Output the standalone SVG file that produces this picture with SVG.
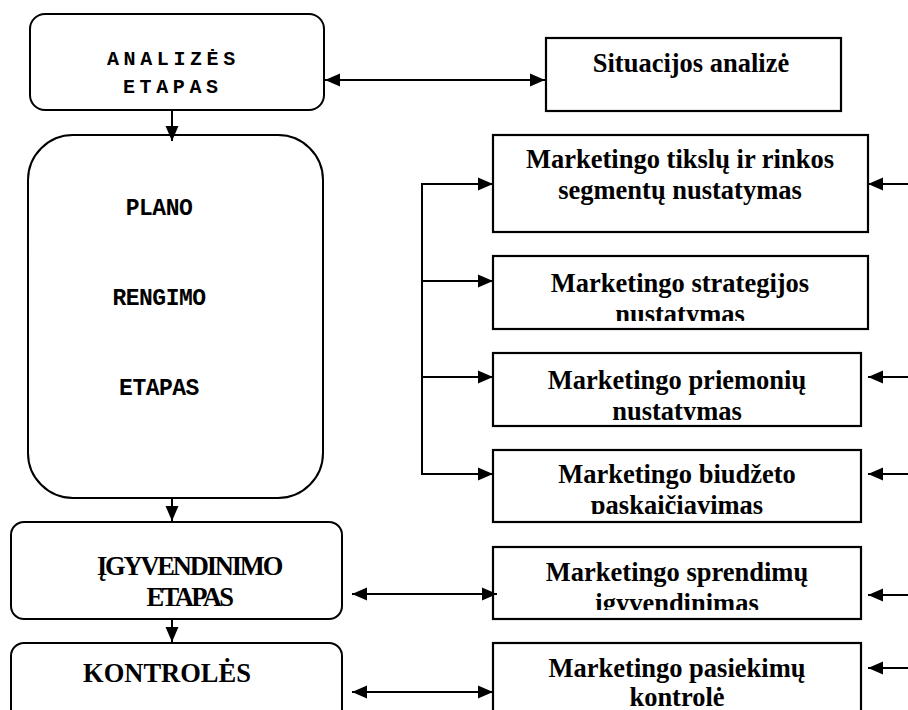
<svg xmlns="http://www.w3.org/2000/svg" width="908" height="710" viewBox="0 0 908 710">
  <style>
    .stage { fill: #fff; stroke: #000; stroke-width: 2; }
    .box { fill: #fff; stroke: #000; stroke-width: 2.2; }
    .mono { font-family: "Liberation Mono", "Courier New", monospace; font-weight: bold; fill: #000; }
    .serif { font-family: "Liberation Serif", "Times New Roman", serif; font-weight: bold; fill: #000; font-size: 26.5px; }
    .task { text-anchor: middle; }
    .link { stroke: #000; stroke-width: 2; fill: none; }
  </style>
  <defs>
    <marker id="head" markerUnits="userSpaceOnUse" markerWidth="15" markerHeight="14" refX="15" refY="7" orient="auto-start-reverse">
      <path d="M0,0.5 L15,7 L0,13.5 Z" fill="#000"/>
    </marker>
    <clipPath id="clip-strategy"><rect x="493" y="256" width="375" height="65"/></clipPath>
    <clipPath id="clip-means"><rect x="493" y="353" width="368" height="67"/></clipPath>
    <clipPath id="clip-budget"><rect x="493" y="450" width="368" height="64"/></clipPath>
    <clipPath id="clip-implement"><rect x="493" y="547" width="368" height="63"/></clipPath>
  </defs>

  <!-- stages (left column) -->
  <g id="stage-analysis">
    <rect class="stage" x="30" y="14" width="294" height="96" rx="15"/>
    <text class="mono" font-size="20" letter-spacing="4.6" x="107" y="65">ANALIZĖS</text>
    <text class="mono" font-size="20" letter-spacing="4.6" x="123" y="93">ETAPAS</text>
  </g>
  <g id="stage-planning">
    <rect class="stage" x="28" y="135" width="295" height="363" rx="45"/>
    <text class="mono" font-size="23" text-anchor="middle" letter-spacing="-0.5" x="159" y="215">PLANO</text>
    <text class="mono" font-size="23" text-anchor="middle" letter-spacing="-0.5" x="159" y="305">RENGIMO</text>
    <text class="mono" font-size="23" text-anchor="middle" letter-spacing="-0.5" x="159" y="395">ETAPAS</text>
  </g>
  <g id="stage-implementation">
    <rect class="stage" x="11" y="522" width="331" height="97" rx="13"/>
    <text class="serif" text-anchor="middle" letter-spacing="-2.2" x="189" y="575">ĮGYVENDINIMO</text>
    <text class="serif" text-anchor="middle" letter-spacing="-2.6" x="189" y="606">ETAPAS</text>
  </g>
  <g id="stage-control">
    <rect class="stage" x="11" y="643" width="331" height="90" rx="13"/>
    <text class="serif" text-anchor="middle" x="167" y="682">KONTROLĖS</text>
  </g>

  <!-- tasks (right column) -->
  <g id="task-situation">
    <rect class="box" x="546" y="38" width="295" height="73"/>
    <text class="serif task" x="691" y="72">Situacijos analizė</text>
  </g>
  <g id="task-goals">
    <rect class="box" x="493" y="135" width="375" height="97"/>
    <text class="serif task" x="680" y="168">Marketingo tikslų ir rinkos</text>
    <text class="serif task" x="680" y="199">segmentų nustatymas</text>
  </g>
  <g id="task-strategy">
    <rect class="box" x="493" y="256" width="375" height="73"/>
    <g clip-path="url(#clip-strategy)">
      <text class="serif task" x="680" y="292">Marketingo strategijos</text>
      <text class="serif task" x="680" y="323">nustatymas</text>
    </g>
  </g>
  <g id="task-means">
    <rect class="box" x="493" y="353" width="368" height="73"/>
    <g clip-path="url(#clip-means)">
      <text class="serif task" x="677" y="389">Marketingo priemonių</text>
      <text class="serif task" x="677" y="420">nustatymas</text>
    </g>
  </g>
  <g id="task-budget">
    <rect class="box" x="493" y="450" width="368" height="72"/>
    <g clip-path="url(#clip-budget)">
      <text class="serif task" x="677" y="483">Marketingo biudžeto</text>
      <text class="serif task" x="677" y="514">paskaičiavimas</text>
    </g>
  </g>
  <g id="task-implementation">
    <rect class="box" x="493" y="547" width="368" height="72"/>
    <g clip-path="url(#clip-implement)">
      <text class="serif task" x="677" y="581">Marketingo sprendimų</text>
      <text class="serif task" x="677" y="612">įgyvendinimas</text>
    </g>
  </g>
  <g id="task-control">
    <rect class="box" x="493" y="643" width="368" height="90"/>
    <text class="serif task" x="677" y="677">Marketingo pasiekimų</text>
    <text class="serif task" x="677" y="706">kontrolė</text>
  </g>

  <!-- connectors -->
  <g id="connectors">
    <!-- stage sequence -->
    <line class="link" x1="172" y1="110" x2="172" y2="141" marker-end="url(#head)"/>
    <line class="link" x1="172" y1="498" x2="172" y2="521" marker-end="url(#head)"/>
    <line class="link" x1="172" y1="619" x2="172" y2="642" marker-end="url(#head)"/>

    <!-- two-way links between stages and tasks -->
    <line class="link" x1="325" y1="80" x2="545" y2="80" marker-start="url(#head)" marker-end="url(#head)"/>
    <line class="link" x1="352" y1="594" x2="497" y2="594" marker-start="url(#head)" marker-end="url(#head)"/>
    <line class="link" x1="352" y1="692" x2="493" y2="692" marker-start="url(#head)" marker-end="url(#head)"/>

    <!-- planning branch -->
    <polyline class="link" points="493,184 422,184 422,474 493,474"/>
    <line class="link" x1="422" y1="184" x2="493" y2="184" marker-end="url(#head)"/>
    <line class="link" x1="422" y1="281" x2="493" y2="281" marker-end="url(#head)"/>
    <line class="link" x1="422" y1="377" x2="493" y2="377" marker-end="url(#head)"/>
    <line class="link" x1="422" y1="474" x2="493" y2="474" marker-end="url(#head)"/>

    <!-- incoming from the right edge -->
    <line class="link" x1="908" y1="184" x2="868" y2="184" marker-end="url(#head)"/>
    <line class="link" x1="908" y1="377" x2="868" y2="377" marker-end="url(#head)"/>
    <line class="link" x1="908" y1="474" x2="868" y2="474" marker-end="url(#head)"/>
    <line class="link" x1="908" y1="595" x2="868" y2="595" marker-end="url(#head)"/>
    <line class="link" x1="908" y1="668" x2="868" y2="668" marker-end="url(#head)"/>
  </g>
</svg>
